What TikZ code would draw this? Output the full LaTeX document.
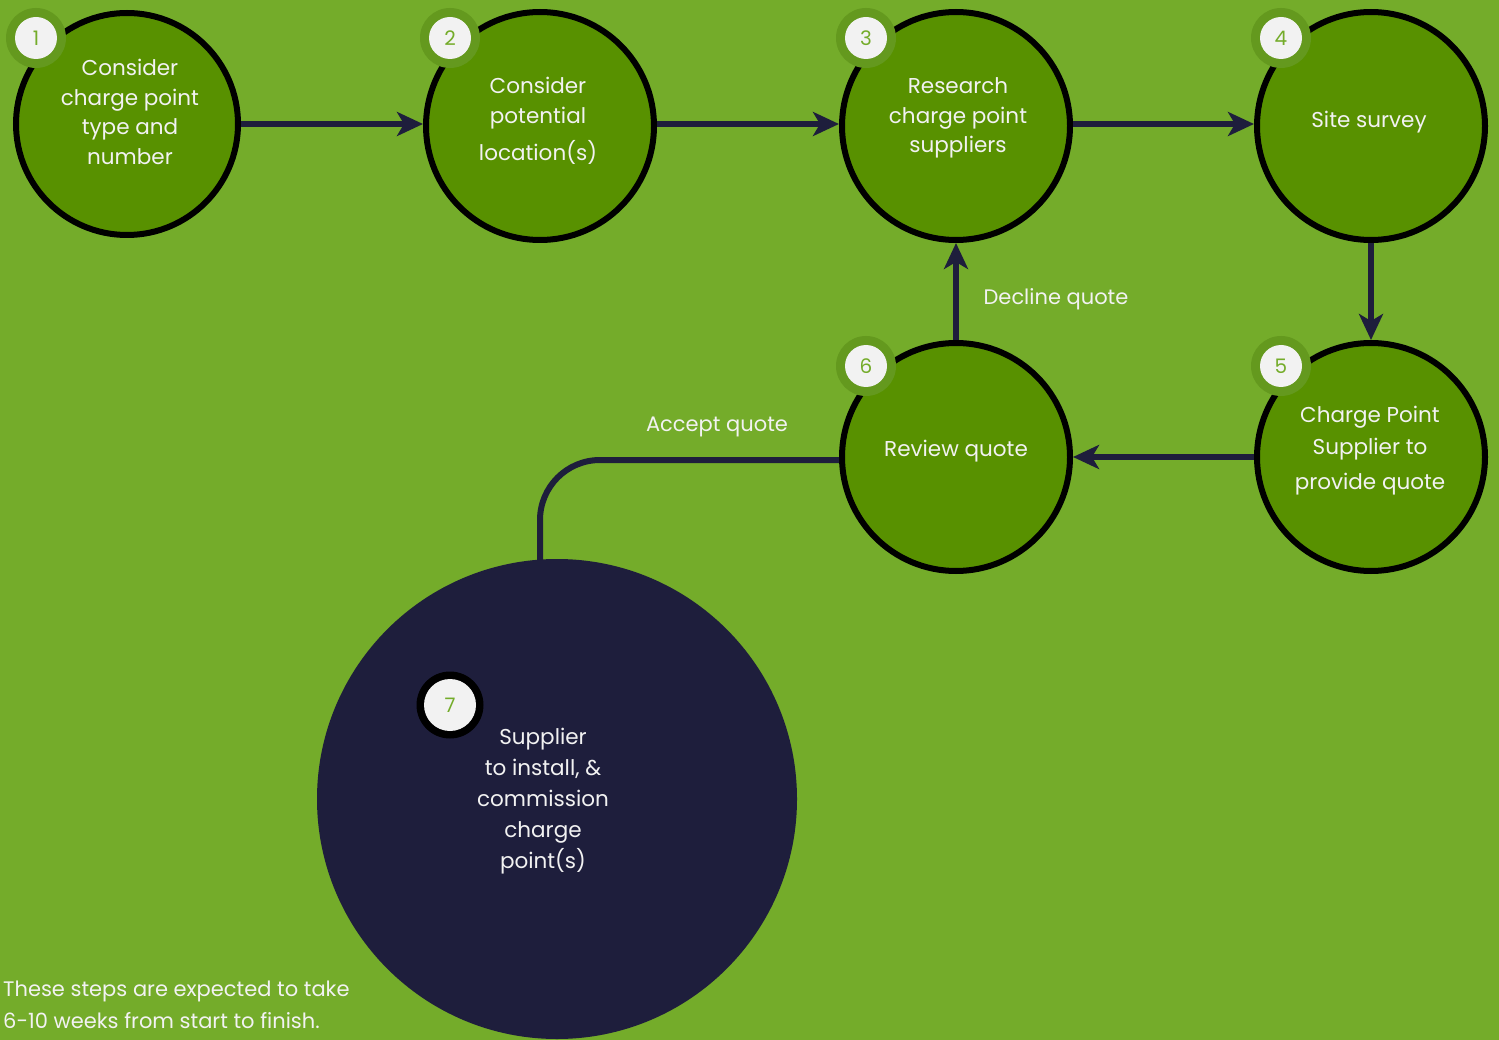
\documentclass[tikz,border=0pt]{standalone}
\usepackage{fontspec}
\setmainfont{Poppins}
\usetikzlibrary{arrows.meta}
\definecolor{bg}{HTML}{74AC2A}
\definecolor{stepfill}{HTML}{589100}
\definecolor{navy}{HTML}{1E1E3C}
\definecolor{ring}{HTML}{64991E}
\definecolor{txt}{HTML}{F2F2F2}
\definecolor{numgreen}{HTML}{74AC2A}
\tikzset{
  stepcircle/.style={circle, draw=black, line width=6pt, fill=stepfill, minimum size=228pt, inner sep=0pt},
  steptext/.style={text=txt, align=center, font=\fontsize{21.5}{29.5}\selectfont, inner sep=0pt},
  flow/.style={draw=navy, line width=6pt, -{Stealth[length=26pt,width=24pt,inset=7pt]}},
  badgering/.style={circle, fill=ring, minimum size=60pt, inner sep=0pt},
  badgeinner/.style={circle, fill=txt, minimum size=42pt, inner sep=0pt, text=numgreen, font=\fontsize{20}{24}\selectfont},
  lbl/.style={text=txt, font=\fontsize{21}{24}\selectfont, inner sep=0pt}
}
\begin{document}
\begin{tikzpicture}[x=1pt,y=-1pt]
\fill[bg] (0,0) rectangle (1499,1040);
\useasboundingbox (0,0) rectangle (1499,1040);
\clip (0,0) rectangle (1499,1040);

% step circles
\node[stepcircle, minimum size=222pt] (c1) at (127,124) {};
\node[stepcircle] (c2) at (540,126) {};
\node[stepcircle] (c3) at (956,126) {};
\node[stepcircle] (c4) at (1371,126) {};
\node[stepcircle] (c5) at (1371,457) {};
\node[stepcircle] (c6) at (956,457) {};
\node[circle, fill=navy, minimum size=480pt, inner sep=0pt] (c7) at (557,799) {};

% connectors
\draw[flow] (c1.east) -- (c1.east -| c2.west);
\draw[flow] ([yshift=2pt]c2.east) -- ([yshift=2pt]c3.west);
\draw[flow] ([yshift=2pt]c3.east) -- ([yshift=2pt]c4.west);
\draw[flow] (c4.south) -- (c5.north);
\draw[flow] (c5.west) -- (c6.west -| c6.east);
\draw[flow] (c6.north) -- (c3.south);
\coordinate (k7) at (540,562);
\draw[draw=navy, line width=6pt, rounded corners=60pt] ([yshift=-3pt]c6.west) -| (k7);

% texts
\node[steptext] (t1) at (130,112) {Consider\\charge point\\type and\\number};
\node[steptext] (t2) at (538,121) {Consider\\potential\\[8pt]location(s)};
\node[steptext] (t3) at (958,118) {Research\\charge point\\suppliers};
\node[steptext] (t4) at (1369,122) {Site survey};
\node[steptext] (t5) at (1370,451) {Charge Point\\[2pt]Supplier to\\[6pt]provide quote};
\node[steptext] (t6) at (956,451) {Review quote};
\node[steptext, font=\fontsize{21.5}{31}\selectfont] (t7) at (543,801) {Supplier\\to install, \&\\commission\\charge\\point(s)};

\node[lbl] (ld) at (1056,299) {Decline quote};
\node[lbl] (la) at (717,427) {Accept quote};
\node[lbl, anchor=west, align=left, font=\fontsize{21}{32}\selectfont] (note) at (3,1005) {These steps are expected to take\\6-10 weeks from start to finish.};

% badges
\foreach \n/\x/\y in {1/36/38, 2/450/38, 3/866/38, 4/1281/38, 5/1281/366, 6/866/366} {
  \node[badgering] (r\n) at (\x,\y) {};
  \node[badgeinner] (b\n) at (\x,\y) {\n};
}
\node[circle, fill=black, minimum size=67pt, inner sep=0pt] (r7) at (450,705) {};
\node[badgeinner, minimum size=52pt] (b7) at (450,705) {7};
\end{tikzpicture}
\end{document}
